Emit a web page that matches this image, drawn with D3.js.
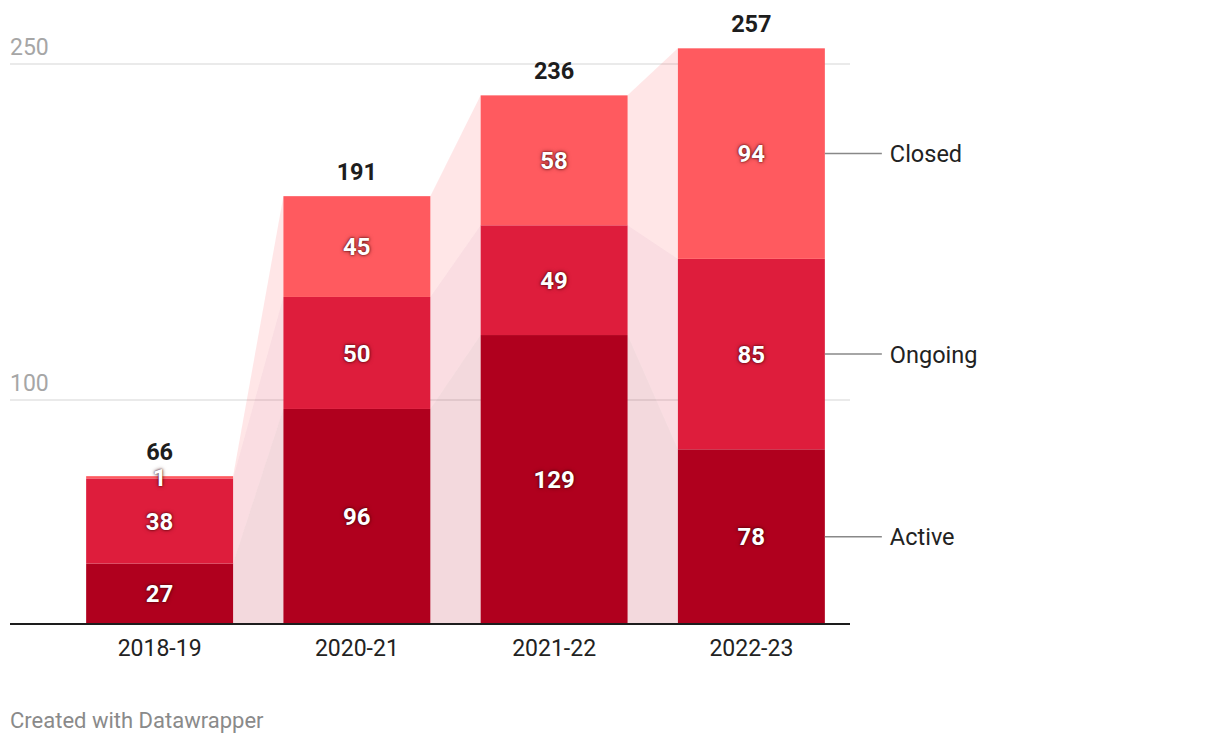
<!DOCTYPE html>
<html>
<head>
<meta charset="utf-8">
<script src="https://cdn.jsdelivr.net/npm/d3@7"></script>
<style>
  html, body { margin: 0; padding: 0; background: #fff; }
  svg { display: block; font-family: Roboto, "Noto Sans", sans-serif; }
  .val { text-shadow: 0 0 2px rgba(60,0,0,0.9), 0 0 4px rgba(60,0,0,0.6); }
</style>
</head>
<body>
<svg id="chart" width="1220" height="744"></svg>
<script>
const categories = ["2018-19", "2020-21", "2021-22", "2022-23"];
const seriesNames = ["Active", "Ongoing", "Closed"];
const active = [27, 96, 129, 78];
const ongoing = [38, 50, 49, 85];
const closed = [1, 45, 58, 94];
const totals = [66, 191, 236, 257];
const yTicks = [100, 250];
const colors = ["#b0001e", "#de1d3c", "#ff5a5f"];

const svg = d3.select("#chart");
const x = d3.scaleBand().domain(categories).range([61, 850]).paddingInner(0.255).paddingOuter(0.1275);
const y = d3.scaleLinear().domain([0, 250]).range([624, 64]);

const rows = categories.map((c, i) => ({ cat: c, Active: active[i], Ongoing: ongoing[i], Closed: closed[i] }));
const stacked = d3.stack().keys(seriesNames)(rows);

// gridlines
const grid = svg.append("g");
grid.selectAll("line").data(yTicks).join("line")
  .attr("x1", 10).attr("x2", 850)
  .attr("y1", d => y(d)).attr("y2", d => y(d))
  .attr("stroke", "#e3e3e3").attr("stroke-width", 1.5);
grid.selectAll("text").data(yTicks).join("text")
  .attr("x", 10).attr("y", d => y(d) - 9)
  .attr("font-size", 23).attr("fill", "#a6a6a6")
  .text(d => d);

// connecting bands
const bands = svg.append("g");
stacked.forEach((s, k) => {
  for (let i = 0; i < categories.length - 1; i++) {
    const xa = x(categories[i]) + x.bandwidth();
    const xb = x(categories[i + 1]);
    const a = s[i], b = s[i + 1];
    const pts = [[xa, y(a[1])], [xb, y(b[1])], [xb, y(b[0])], [xa, y(a[0])]];
    bands.append("path")
      .attr("d", d3.line()(pts) + "Z")
      .attr("fill", colors[k]).attr("fill-opacity", 0.15);
  }
});

// bars
const bars = svg.append("g");
stacked.forEach((s, k) => {
  bars.append("g").selectAll("rect").data(s).join("rect")
    .attr("x", d => x(d.data.cat))
    .attr("width", x.bandwidth())
    .attr("y", d => y(d[1]))
    .attr("height", d => y(d[0]) - y(d[1]))
    .attr("fill", colors[k]);
});

// baseline
svg.append("line")
  .attr("x1", 10).attr("x2", 850).attr("y1", y(0)).attr("y2", y(0))
  .attr("stroke", "#1d1d1d").attr("stroke-width", 2);

// value labels
const labels = svg.append("g");
stacked.forEach((s, k) => {
  labels.append("g").selectAll("text").data(s).join("text")
    .attr("class", "val")
    .attr("x", d => x(d.data.cat) + x.bandwidth() / 2)
    .attr("y", d => (y(d[0]) + y(d[1])) / 2)
    .attr("dy", "0.36em")
    .attr("text-anchor", "middle")
    .attr("font-size", 24).attr("font-weight", 700).attr("fill", "#fff")
    .text(d => d[1] - d[0]);
});

// totals
svg.append("g").selectAll("text").data(categories).join("text")
  .attr("x", c => x(c) + x.bandwidth() / 2)
  .attr("y", (c, i) => y(totals[i]) - 16)
  .attr("text-anchor", "middle")
  .attr("font-size", 23.5).attr("font-weight", 700).attr("fill", "#1d1d1d")
  .text((c, i) => totals[i]);

// x axis labels
svg.append("g").selectAll("text").data(categories).join("text")
  .attr("x", c => x(c) + x.bandwidth() / 2)
  .attr("y", 656)
  .attr("text-anchor", "middle")
  .attr("font-size", 23).attr("fill", "#222")
  .text(c => c);

// series legend at last bar
const last = categories.length - 1;
const lx = x(categories[last]) + x.bandwidth();
const leg = svg.append("g");
stacked.forEach((s, k) => {
  const d = s[last];
  const ym = (y(d[0]) + y(d[1])) / 2;
  leg.append("line").attr("x1", lx).attr("x2", lx + 57).attr("y1", ym).attr("y2", ym)
    .attr("stroke", "#888").attr("stroke-width", 1.5);
  leg.append("text").attr("x", lx + 65).attr("y", ym).attr("dy", "0.36em")
    .attr("font-size", 23.5).attr("fill", "#222").text(seriesNames[k]);
});

// footer
svg.append("text").attr("x", 10).attr("y", 728)
  .attr("font-size", 22).attr("fill", "#8a8a8a")
  .text("Created with Datawrapper");
</script>
</body>
</html>
